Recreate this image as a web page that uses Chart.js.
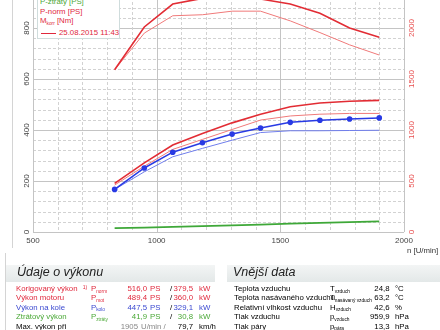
<!DOCTYPE html>
<html>
<head>
<meta charset="utf-8">
<script src="https://cdn.jsdelivr.net/npm/chart.js@4.4.1/dist/chart.umd.min.js"></script>
<style>
body { margin:0; width:440px; height:330px; overflow:hidden; background:#fff; position:relative;
       font-family:"Liberation Sans", Arial, sans-serif; }
#wrap { position:absolute; left:0; top:-30px; width:440px; height:286px; }
.frame { position:absolute; background:#d4d4d4; width:1px; }
.legend { position:absolute; left:37px; top:-14px; width:81px; height:51px; border:1px solid #cfdcdc; background:#fff; }
.t { position:absolute; white-space:nowrap; font-size:7.8px; line-height:9px; }
.t .sb { font-size:4.8px; position:relative; top:1.5px; }
.t .sp { font-size:5px; position:relative; top:-2.5px; margin-left:3px; }
.r { text-align:right; }
.head { position:absolute; top:265px; height:17px; background:linear-gradient(#f3f5f5,#e3e8e8); }
.head span { position:absolute; left:11px; top:0; font-size:12.5px; font-style:italic; color:#222; }
.red { color:#e0283c; }
.blue { color:#3a48d0; }
.green { color:#4aa836; }
.gray { color:#888; }
</style>
</head>
<body>
<div class="frame" style="left:12px; top:0; height:248px;"></div>
<div class="frame" style="left:5px; top:253px; height:77px;"></div>
<div id="wrap"><canvas id="chart" width="440" height="286"></canvas></div>

<div class="legend">
  <span class="t green" style="left:2px; top:10px;">P-ztráty [PS]</span>
  <span class="t red" style="left:2px; top:20px;">P-norm [PS]</span>
  <span class="t red" style="left:2px; top:29px;">M<span class="sb">korr</span> [Nm]</span>
  <span style="position:absolute; left:3px; top:46px; width:15px; height:1px; background:#e0283c;"></span>
  <span class="t red" style="left:21px; top:41px;">25.08.2015 11:43</span>
</div>

<span class="t" style="left:407px; top:246px; color:#333;">n [U/min]</span>

<div class="head" style="left:6px; width:209px;"><span>Údaje o výkonu</span></div>
<div class="head" style="left:227px; width:213px;"><span style="left:6px;">Vnější data</span></div>

<script>
// otáčky motoru [U/min]
const rpm = [830, 950, 1065, 1185, 1305, 1420, 1540, 1660, 1780, 1900];
// výkon [PS]
const pNorm = [191, 271, 341, 386, 428, 462, 491, 506, 513, 516];
const pKolo = [167, 251, 313, 350, 384, 408, 430, 438, 443, 447.5];
const pZtraty = [15, 17, 20, 23, 26, 29, 33, 36, 39, 42];
// srovnávací měření 25.08.2015 11:43
const pNormRef = [184, 258, 324, 363, 402, 439, 455, 462, 465, 465];
const pKoloRef = [167, 236, 295, 328, 360, 390, 397, 397, 398, 399];
// točivý moment [Nm]
const mKorr = [1590, 2010, 2235, 2290, 2305, 2285, 2235, 2145, 2000, 1910];
const mKorrRef = [1590, 1950, 2120, 2130, 2165, 2165, 2070, 1955, 1835, 1735];

const rpmTicks = [500, 1000, 1500, 2000];
const powerTicks = [0, 200, 400, 600, 800, 1000];
const torqueTicks = [0, 500, 1000, 1500, 2000, 2500];

const RED = 'rgb(226,44,52)';
const RED_LIGHT = 'rgb(240,122,122)';
const BLUE = 'rgb(40,58,228)';
const BLUE_LIGHT = 'rgb(112,126,236)';
const GREEN = 'rgb(62,168,56)';

function pts(ys) {
  return rpm.map((x, i) => ({ x: x, y: ys[i] }));
}

function line(data, color, width, axis, extra) {
  return Object.assign({
    data: pts(data), borderColor: color, backgroundColor: color,
    borderWidth: width, pointRadius: 0, tension: 0, fill: false, yAxisID: axis
  }, extra || {});
}

// mřížka: plné čáry na hlavních hodnotách, čárkované mezi nimi
const grid = {
  id: 'grid',
  beforeDatasetsDraw(chart) {
    const { ctx, chartArea: a, scales } = chart;
    ctx.save();
    ctx.lineWidth = 1;
    function hline(v, major) {
      const y = Math.round(scales.y.getPixelForValue(v)) + 0.5;
      ctx.strokeStyle = major ? '#c4c4c4' : '#d2d2d2';
      ctx.setLineDash(major ? [] : [3, 2]);
      ctx.beginPath(); ctx.moveTo(a.left, y); ctx.lineTo(a.right, y); ctx.stroke();
    }
    function vline(v, major) {
      const x = Math.round(scales.x.getPixelForValue(v)) + 0.5;
      ctx.strokeStyle = major ? '#c4c4c4' : '#d2d2d2';
      ctx.setLineDash(major ? [] : [3, 2]);
      ctx.beginPath(); ctx.moveTo(x, a.top); ctx.lineTo(x, a.bottom); ctx.stroke();
    }
    for (let v = 0; v <= 1000; v += 40) hline(v, v % 200 === 0);
    for (let v = 500; v <= 2000; v += 100) vline(v, v % 500 === 0);
    ctx.restore();
  }
};

const tickLabels = {
  id: 'tickLabels',
  afterDraw(chart) {
    const { ctx, scales } = chart;
    ctx.save();
    ctx.font = '8px "Liberation Sans", Arial, sans-serif';
    ctx.textAlign = 'center';
    ctx.textBaseline = 'middle';
    ctx.fillStyle = '#444';
    rpmTicks.forEach(v => ctx.fillText(v, scales.x.getPixelForValue(v), scales.x.bottom + 9));
    powerTicks.forEach(v => {
      ctx.save();
      ctx.translate(27, scales.y.getPixelForValue(v));
      ctx.rotate(-Math.PI / 2);
      ctx.fillText(v, 0, 0);
      ctx.restore();
    });
    ctx.fillStyle = 'rgb(232,80,80)';
    torqueTicks.forEach(v => {
      ctx.save();
      ctx.translate(412, scales.y2.getPixelForValue(v));
      ctx.rotate(-Math.PI / 2);
      ctx.fillText(v, 0, 0);
      ctx.restore();
    });
    ctx.restore();
  }
};

new Chart(document.getElementById('chart'), {
  type: 'line',
  data: {
    datasets: [
      line(pKolo, BLUE, 1.5, 'y', { pointRadius: 2.8, pointBorderWidth: 0 }),
      line(pNorm, RED, 1.6, 'y'),
      line(pNormRef, RED_LIGHT, 1, 'y'),
      line(pKoloRef, BLUE_LIGHT, 1, 'y'),
      line(pZtraty, GREEN, 1.8, 'y'),
      line(mKorr, RED, 1.6, 'y2'),
      line(mKorrRef, RED_LIGHT, 1, 'y2')
    ]
  },
  options: {
    responsive: false,
    animation: false,
    layout: { padding: { left: 33, right: 36, top: 7, bottom: 24 } },
    plugins: { legend: { display: false }, tooltip: { enabled: false } },
    scales: {
      x: { type: 'linear', display: false, min: 500, max: 2000 },
      y: { display: false, min: 0, max: 1000 },
      y2: { position: 'right', display: false, min: 0, max: 2500 }
    }
  },
  plugins: [grid, tickLabels]
});

// tabulky pod grafem
const perfRows = [
  ['Korigovaný výkon <span class="sp">1)</span>', 'norm', '516,0', '379,5', 'red'],
  ['Výkon motoru', 'mot', '489,4', '360,0', 'red'],
  ['Výkon na kole', 'kolo', '447,5', '329,1', 'blue'],
  ['Ztrátový výkon', 'ztráty', '41,9', '30,8', 'green']
];
const envRows = [
  ['Teplota vzduchu', 'T', 'vzduch', '24,8', '°C'],
  ['Teplota nasávaného vzduchu', 'T', 'nasávaný vzduch', '63,2', '°C'],
  ['Relativní vlhkost vzduchu', 'H', 'vzduch', '42,6', '%'],
  ['Tlak vzduchu', 'p', 'vzduch', '959,9', 'hPa'],
  ['Tlak páry', 'p', 'pára', '13,3', 'hPa']
];
const rowTop = [284, 293, 302.5, 312, 321.5];

function cell(html, left, top, cls, width) {
  const s = document.createElement('span');
  s.className = 't ' + (cls || '');
  s.style.left = left + 'px';
  s.style.top = top + 'px';
  if (width) s.style.width = width + 'px';
  s.innerHTML = html;
  document.body.appendChild(s);
}

perfRows.forEach((r, i) => {
  const top = rowTop[i];
  cell(r[0], 16, top, r[4]);
  cell('P<span class="sb">' + r[1] + '</span>', 91, top, r[4]);
  cell(r[2], 117, top, r[4] + ' r', 30);
  cell('PS', 150, top, r[4]);
  cell('/', 170, top, '');
  cell(r[3], 170, top, r[4] + ' r', 23);
  cell('kW', 199, top, r[4]);
});
cell('Max. výkon při', 16, rowTop[4], '');
cell('1905', 118, rowTop[4], 'gray r', 20);
cell('U/min /', 141, rowTop[4], 'gray');
cell('79,7', 170, rowTop[4], 'r', 23);
cell('km/h', 199, rowTop[4], '');

envRows.forEach((r, i) => {
  const top = rowTop[i];
  cell(r[0], 234, top, '');
  cell(r[1] + '<span class="sb">' + r[2] + '</span>', 330, top, '');
  cell(r[3], 360, top, 'r', 29.5);
  cell(r[4], 395, top, '');
});
</script>
</body>
</html>
